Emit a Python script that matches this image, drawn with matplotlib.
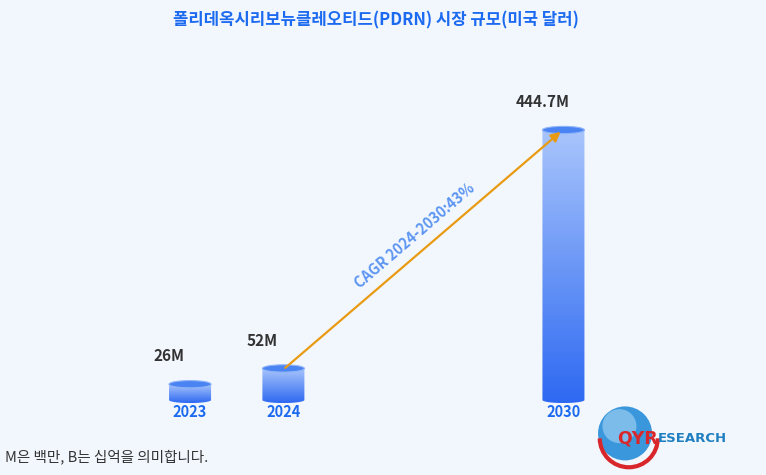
import numpy as np
import matplotlib
matplotlib.use("Agg")
import matplotlib.pyplot as plt
from matplotlib.patches import Ellipse, Polygon, Arc
from matplotlib.colors import LinearSegmentedColormap

plt.rcParams['font.family'] = ['Noto Sans CJK KR', 'DejaVu Sans']

years = ['2023', '2024', '2030']
xpos = [0, 1, 4]
values = [26, 52, 444.7]
value_labels = ['26M', '52M', '444.7M']
title = '폴리데옥시리보뉴클레오티드(PDRN) 시장 규모(미국 달러)'
cagr_text = 'CAGR 2024-2030:43%'
note = 'M은 백만, B는 십억을 의미합니다.'

bg = '#f2f7fe'
fig = plt.figure(figsize=(7.66, 4.75), dpi=100, facecolor=bg)
ax = fig.add_axes([0, 0, 1, 1])
ax.set_facecolor(bg)
ax.set_xlim(-2.036, 6.17)
ax.set_ylim(-123.5, 658.8)
ax.axis('off')

cmap = LinearSegmentedColormap.from_list('bar', ['#2e69f2', '#6b97f6', '#a9c5fc'])
w = 0.45
eh_top = 12.0   # ellipse height of the top cap
eh_bot = 10.0
for i, (x, v) in enumerate(zip(xpos, values)):
    t = np.linspace(0, np.pi, 40)
    bx = x + (w / 2) * np.cos(t)
    by = -(eh_bot / 2) * np.sin(t)
    pts = [(x - w / 2, v), (x + w / 2, v)] + list(zip(bx, by))
    poly = Polygon(pts, closed=True, facecolor='none', edgecolor='none')
    ax.add_patch(poly)
    grad = np.linspace(0, 1, 256).reshape(-1, 1)
    im = ax.imshow(grad, cmap=cmap, origin='lower', aspect='auto',
                   extent=[x - w / 2, x + w / 2, -eh_bot / 2, v], zorder=2)
    im.set_clip_path(poly)
    ax.add_patch(Ellipse((x, v), w, eh_top, facecolor='#4a84f3',
                         edgecolor='#8fb3f8', lw=0.8, zorder=3))
    ax.text(x, -20, years[i], ha='center', va='center',
            fontsize=10.5, fontweight='bold', color='#1c6af0')
    ax.text(x - w / 2, v + 46, value_labels[i], ha='center',
            va='center', fontsize=11, fontweight='bold', color='#333333')

# CAGR arrow
ax.annotate('', xy=(xpos[2] - 0.03, values[2] - 3), xytext=(xpos[1] + 0.02, values[1] + 1),
            arrowprops=dict(arrowstyle='-|>', color='#e89b12', lw=1.6,
                            mutation_scale=14, shrinkA=0, shrinkB=0), zorder=4)
ax.text(2.41, 270, cagr_text, rotation=40.6, ha='center', va='center',
        fontsize=10.5, fontweight='bold', color='#5d96f2', rotation_mode='anchor')

fig.text(376 / 766, 1 - 20 / 475, title, ha='center', va='center', fontsize=12,
         fontweight='bold', color='#1c6af0')
fig.text(5 / 766, 1 - 457 / 475, note, ha='left', va='center', fontsize=10.5,
         color='#333333')

# logo
gx, gy = 4.66, -55
ax.add_patch(Ellipse((gx, gy), 54 / 93.3, 54 / 0.6072, facecolor='#3b97dc',
                     edgecolor='none', zorder=5))
ax.add_patch(Ellipse((gx - 0.06, gy + 12), 34 / 93.3, 34 / 0.6072,
                     facecolor='#a8d6f4', edgecolor='none', alpha=0.6, zorder=5))
ax.add_patch(Arc((gx + 0.04, gy - 8), 58 / 93.3, 58 / 0.6072, theta1=205, theta2=345,
                 color='#d8262a', lw=3, zorder=6))
ax.text(4.58, -64, 'QYR', ha='left', va='center', fontsize=12.5, fontweight='bold',
        color='#d8262a', zorder=7, family='DejaVu Sans')
ax.text(5.01, -64, 'ESEARCH', ha='left', va='center', fontsize=9.5, fontweight='bold',
        color='#1f7fc0', zorder=7, family='DejaVu Sans')

fig.savefig('out.png', dpi=100, facecolor=bg)
